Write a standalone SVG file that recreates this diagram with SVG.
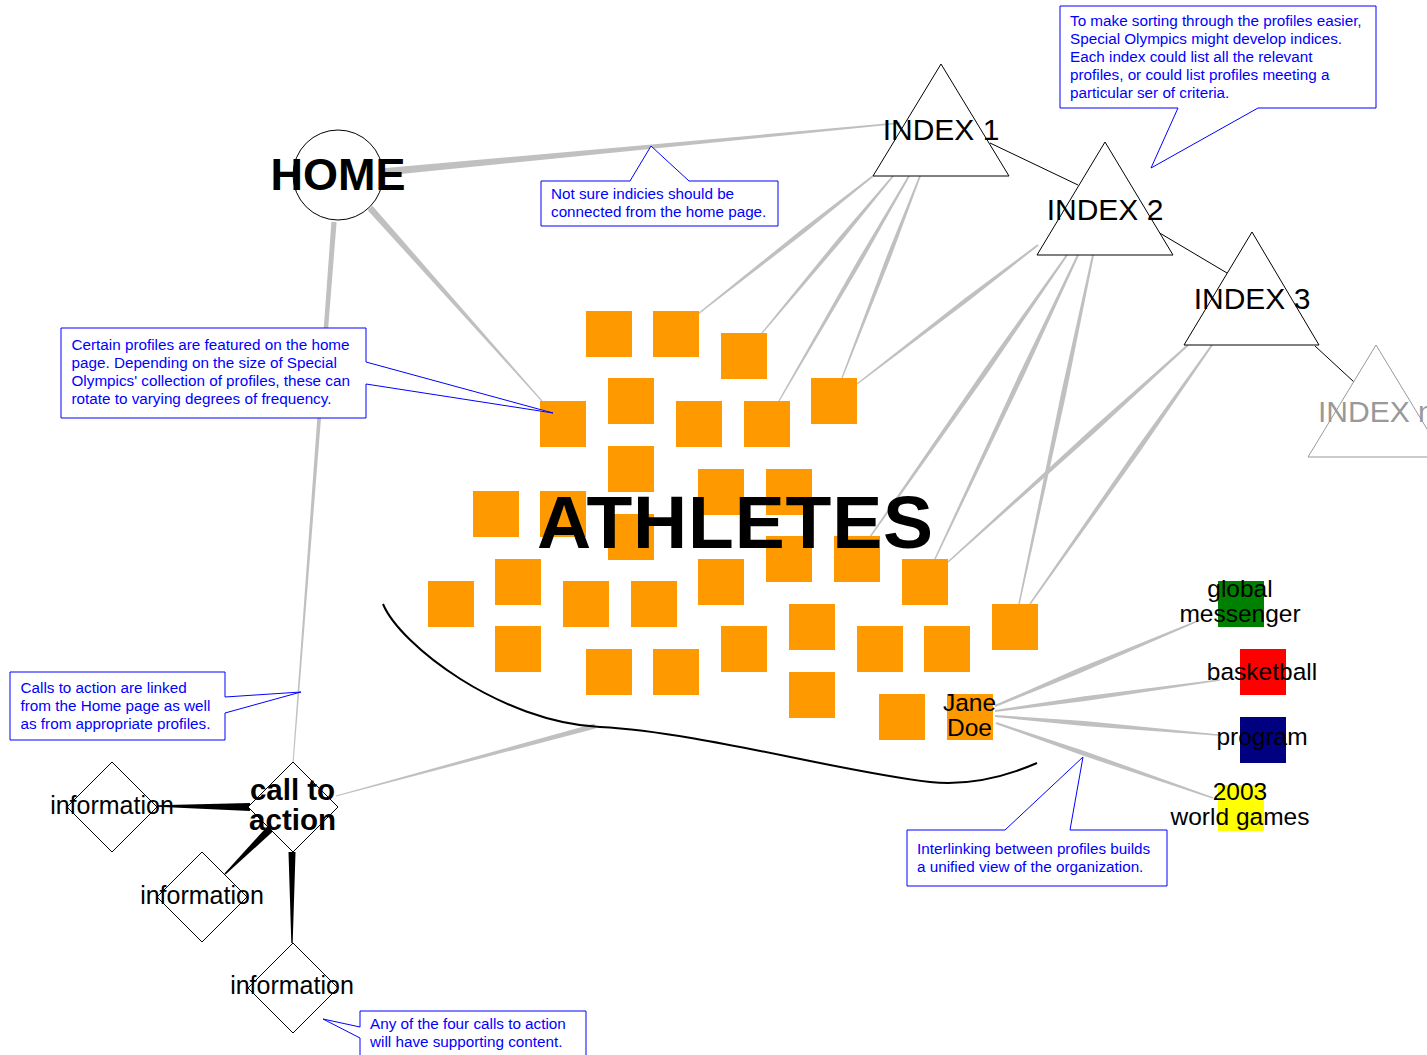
<svg xmlns="http://www.w3.org/2000/svg" xmlns:xlink="http://www.w3.org/1999/xlink" width="1427" height="1055" viewBox="0 0 1427 1055">
<style>
text{font-family:"Liberation Sans",Arial,sans-serif}
.sq{fill:#FF9900}
.node{fill:#fff;stroke:#000;stroke-width:1}
.ghost{fill:#fff;stroke:#999;stroke-width:1}
.idx{font-size:30px;fill:#000;text-anchor:middle}
.lbl{font-size:25px;fill:#000;text-anchor:middle}
.tag{font-size:24.5px;fill:#000;text-anchor:middle}
.co{fill:#fff;stroke:#0000FF;stroke-width:1}
.ct{font-size:15.25px;fill:#0000FF}
.gray{fill:#C0C0C0}
.blk{fill:#000}
.thin{stroke:#000;stroke-width:1;fill:none}
</style>
<defs>
<polygon id="wedge" points="0,-1 1,-0.2 1,0.2 0,1"/>
<polygon id="spindle" points="0,-0.4 0.4,-1 1,-0.3 1,0.3 0.4,1 0,0.4"/>
</defs>
<rect width="1427" height="1055" fill="#fff"/>

<g id="connectors">
<g class="gray">
<use xlink:href="#wedge" transform="translate(383 172) rotate(-5.41) scale(519.3 3.7)"/>
<use xlink:href="#wedge" transform="translate(334 222) rotate(94.33) scale(542.6 2.6)"/>
<use xlink:href="#wedge" transform="translate(370 208) rotate(48.3) scale(260 3.2)"/>
<use xlink:href="#spindle" transform="translate(873 176) rotate(141.74) scale(222.9 2.2)"/>
<use xlink:href="#spindle" transform="translate(893 176) rotate(129.84) scale(204.5 2.2)"/>
<use xlink:href="#spindle" transform="translate(909 176) rotate(120.02) scale(259.9 2.2)"/>
<use xlink:href="#spindle" transform="translate(920 176) rotate(111.12) scale(216.5 2.2)"/>
<use xlink:href="#spindle" transform="translate(1038 245) rotate(142.48) scale(228.2 2.2)"/>
<use xlink:href="#spindle" transform="translate(1067 255) rotate(124.94) scale(344 2.5)"/>
<use xlink:href="#spindle" transform="translate(1078 255) rotate(115.19) scale(336 2.5)"/>
<use xlink:href="#spindle" transform="translate(1093 255) rotate(101.97) scale(356.8 2.5)"/>
<use xlink:href="#spindle" transform="translate(1188 345) rotate(137.88) scale(323.6 2.5)"/>
<use xlink:href="#spindle" transform="translate(1212 345) rotate(125.10) scale(316.6 2.5)"/>
<use xlink:href="#spindle" transform="translate(995 706) rotate(-22.76) scale(222.3 2.5)"/>
<use xlink:href="#spindle" transform="translate(995 711) rotate(-7.84) scale(227.1 2.5)"/>
<use xlink:href="#spindle" transform="translate(995 716) rotate(4.87) scale(223.8 2.5)"/>
<use xlink:href="#spindle" transform="translate(996 723) rotate(19.07) scale(229.6 2.5)"/>
<use xlink:href="#wedge" transform="translate(595 726) rotate(164.88) scale(268.3 2.5)"/>
</g>
<g class="blk">
<use xlink:href="#wedge" transform="translate(250 807) rotate(180.6) scale(93 4)"/>
<use xlink:href="#wedge" transform="translate(273 826) rotate(135) scale(67.9 4)"/>
<use xlink:href="#wedge" transform="translate(292 852) rotate(90) scale(91 3.5)"/>
</g>
<line class="thin" x1="990" y1="143" x2="1078" y2="185"/>
<line class="thin" x1="1158" y1="232" x2="1227" y2="273"/>
<line class="thin" x1="1315" y1="346" x2="1354" y2="382"/>
</g>

<g id="curve">
<path d="M383,604 C400,645 500,722 600,727 C700,732 840,772 930,782 C970,786 1005,777 1037,763" fill="none" stroke="#000" stroke-width="2"/>
</g>

<g id="athletes">
<rect class="sq" x="586" y="311" width="46" height="46"/>
<rect class="sq" x="653" y="311" width="46" height="46"/>
<rect class="sq" x="721" y="333" width="46" height="46"/>
<rect class="sq" x="608" y="378" width="46" height="46"/>
<rect class="sq" x="811" y="378" width="46" height="46"/>
<rect class="sq" x="540" y="401" width="46" height="46"/>
<rect class="sq" x="676" y="401" width="46" height="46"/>
<rect class="sq" x="744" y="401" width="46" height="46"/>
<rect class="sq" x="608" y="446" width="46" height="46"/>
<rect class="sq" x="698" y="469" width="46" height="46"/>
<rect class="sq" x="766" y="469" width="46" height="46"/>
<rect class="sq" x="473" y="491" width="46" height="46"/>
<rect class="sq" x="540" y="491" width="46" height="46"/>
<rect class="sq" x="608" y="514" width="46" height="46"/>
<rect class="sq" x="766" y="536" width="46" height="46"/>
<rect class="sq" x="834" y="536" width="46" height="46"/>
<rect class="sq" x="495" y="559" width="46" height="46"/>
<rect class="sq" x="698" y="559" width="46" height="46"/>
<rect class="sq" x="902" y="559" width="46" height="46"/>
<rect class="sq" x="428" y="581" width="46" height="46"/>
<rect class="sq" x="563" y="581" width="46" height="46"/>
<rect class="sq" x="631" y="581" width="46" height="46"/>
<rect class="sq" x="789" y="604" width="46" height="46"/>
<rect class="sq" x="992" y="604" width="46" height="46"/>
<rect class="sq" x="495" y="626" width="46" height="46"/>
<rect class="sq" x="721" y="626" width="46" height="46"/>
<rect class="sq" x="857" y="626" width="46" height="46"/>
<rect class="sq" x="924" y="626" width="46" height="46"/>
<rect class="sq" x="586" y="649" width="46" height="46"/>
<rect class="sq" x="653" y="649" width="46" height="46"/>
<rect class="sq" x="789" y="672" width="46" height="46"/>
<rect class="sq" x="879" y="694" width="46" height="46"/>
<text x="537" y="548" font-size="75" font-weight="bold" fill="#000" textLength="396">ATHLETES</text>
</g>

<g id="jane-doe">
<rect class="sq" x="947" y="694" width="46" height="46"/>
<text class="tag" x="969.5" y="711">Jane</text>
<text class="tag" x="969.5" y="736">Doe</text>
</g>

<g id="home">
<circle class="node" cx="338" cy="175" r="45"/>
<text x="338" y="190" font-size="45" font-weight="bold" text-anchor="middle">HOME</text>
</g>

<g id="index1">
<polygon class="node" points="941,64 1009,176 873,176"/>
<text class="idx" x="941" y="140">INDEX 1</text>
</g>
<g id="index2">
<polygon class="node" points="1105,142 1173,255 1037,255"/>
<text class="idx" x="1105" y="220">INDEX 2</text>
</g>
<g id="index3">
<polygon class="node" points="1252,232 1319,345 1184,345"/>
<text class="idx" x="1252" y="309">INDEX 3</text>
</g>
<g id="index-n">
<polygon class="ghost" points="1376,345 1444,457 1308,457"/>
<text x="1318" y="422" font-size="30" fill="#999">INDEX n</text>
</g>

<g id="call-to-action">
<polygon class="node" points="293,762 338,807 293,852 248,807"/>
<text x="292.5" y="800" font-size="29.5" font-weight="bold" text-anchor="middle">call to</text>
<text x="292.5" y="830" font-size="29.5" font-weight="bold" text-anchor="middle">action</text>
</g>
<g id="information1">
<polygon class="node" points="112,762 157,807 112,852 67,807"/>
<text class="lbl" x="112" y="814">information</text>
</g>
<g id="information2">
<polygon class="node" points="202,852 247,897 202,942 157,897"/>
<text class="lbl" x="202" y="904">information</text>
</g>
<g id="information3">
<polygon class="node" points="293,943 338,988 293,1033 248,988"/>
<text class="lbl" x="292" y="994">information</text>
</g>

<g id="global-messenger">
<rect x="1218" y="581" width="46" height="46" fill="#008000"/>
<text class="tag" x="1240" y="597">global</text>
<text class="tag" x="1240" y="622">messenger</text>
</g>
<g id="basketball">
<rect x="1240" y="649" width="46" height="46" fill="#FF0000"/>
<text class="tag" x="1262" y="680">basketball</text>
</g>
<g id="program">
<rect x="1240" y="717" width="46" height="46" fill="#000080"/>
<text class="tag" x="1262" y="745">program</text>
</g>
<g id="world-games">
<rect x="1218" y="785" width="46" height="46" fill="#FFFF00"/>
<text class="tag" x="1240" y="800">2003</text>
<text class="tag" x="1240" y="825">world games</text>
</g>

<g id="callouts">
<g id="note-home">
<path class="co" d="M541,181 H630 L651,146 L689,181 H778 V226 H541 Z"/>
<text class="ct" x="551" y="199">Not sure indicies should be</text>
<text class="ct" x="551" y="217">connected from the home page.</text>
</g>
<g id="note-indices">
<path class="co" d="M1060,6 H1376 V108 H1258 L1151,168 L1178,108 H1060 Z"/>
<text class="ct" x="1070" y="26">To make sorting through the profiles easier,</text>
<text class="ct" x="1070" y="44">Special Olympics might develop indices.</text>
<text class="ct" x="1070" y="62">Each index could list all the relevant</text>
<text class="ct" x="1070" y="80">profiles, or could list profiles meeting a</text>
<text class="ct" x="1070" y="98">particular ser of criteria.</text>
</g>
<g id="note-featured">
<path class="co" d="M61,328 H366 V362 L553,413 L366,384 V418 H61 Z"/>
<text class="ct" x="71.5" y="350">Certain profiles are featured on the home</text>
<text class="ct" x="71.5" y="368">page. Depending on the size of Special</text>
<text class="ct" x="71.5" y="386">Olympics' collection of profiles, these can</text>
<text class="ct" x="71.5" y="404">rotate to varying degrees of frequency.</text>
</g>
<g id="note-calls">
<path class="co" d="M10,672 H225 V697 L301,692 L225,713 V740 H10 Z"/>
<text class="ct" x="20.5" y="693">Calls to action are linked</text>
<text class="ct" x="20.5" y="711">from the Home page as well</text>
<text class="ct" x="20.5" y="729">as from appropriate profiles.</text>
</g>
<g id="note-support">
<path class="co" d="M360,1011 H586 V1062 H360 V1038 L323,1019 L360,1027 Z"/>
<text class="ct" x="370" y="1029">Any of the four calls to action</text>
<text class="ct" x="370" y="1047">will have supporting content.</text>
</g>
<g id="note-interlink">
<path class="co" d="M907,830 H1005 L1083,757 L1070,830 H1167 V886 H907 Z"/>
<text class="ct" x="917" y="854">Interlinking between profiles builds</text>
<text class="ct" x="917" y="872">a unified view of the organization.</text>
</g>
</g>
</svg>
